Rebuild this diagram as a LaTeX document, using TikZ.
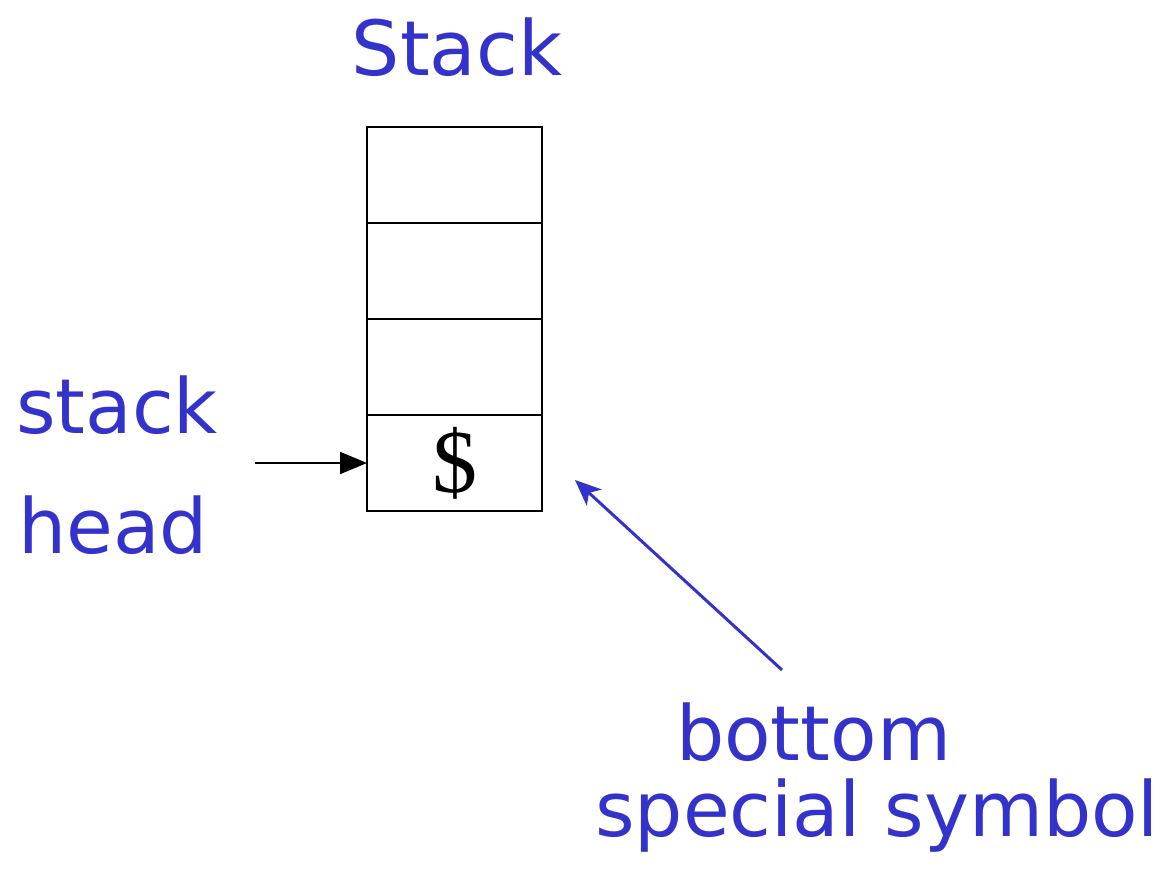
\documentclass[tikz,border=0pt]{standalone}
\usepackage{fontspec}
\setmainfont{Liberation Serif}
\newfontfamily\handfont{DejaVu Sans}
\usepackage{tikz}
\usetikzlibrary{positioning, arrows.meta}
\definecolor{inkblue}{RGB}{51,51,204}

\begin{document}
\begin{tikzpicture}[
        x=1pt, y=-1pt,
        node distance=0pt,
        cell/.style={rectangle, draw, line width=2pt, outer sep=0pt, inner sep=0pt, minimum width=175pt, minimum height=96pt,
            font=\fontsize{90}{100}\selectfont},
        label/.style={text=inkblue, inner sep=0pt, font=\handfont\fontsize{76}{90}\selectfont},
        arrow/.style={-{Triangle[length=27pt, width=22pt]}, line width=2pt},
        pointer/.style={-{Stealth[length=26pt, width=22pt, inset=7pt]}, line width=3pt, inkblue}
    ]
        \useasboundingbox (0,0) rectangle (1161,883);

        % Define nodes
        \node (c1) [cell] at (454.5,175) {};
        \node (c2) [cell, below=of c1] {};
        \node (c3) [cell, below=of c2] {};
        \node (c4) [cell, below=of c3] {\$};

        \node (title) [label, anchor=base] at (457,75) {Stack};
        \node (head1) [label, anchor=base west] at (16,433) {stack};
        \node (head2) [label, anchor=base west] at (18,553) {head};
        \node (bottom1) [label, anchor=base west] at (676,760) {bottom};
        \node (bottom2) [label, anchor=base west] at (595,836) {special symbol};

        \coordinate (headtail) at (255,463);
        \coordinate (bottomtail) at (782,670);
        \coordinate (bottomtip) at (575,480);

        % Draw arrows
        \draw [arrow] (headtail) -- (c4.west);
        \draw [pointer] (bottomtail) -- (bottomtip);
    \end{tikzpicture}
\end{document}
